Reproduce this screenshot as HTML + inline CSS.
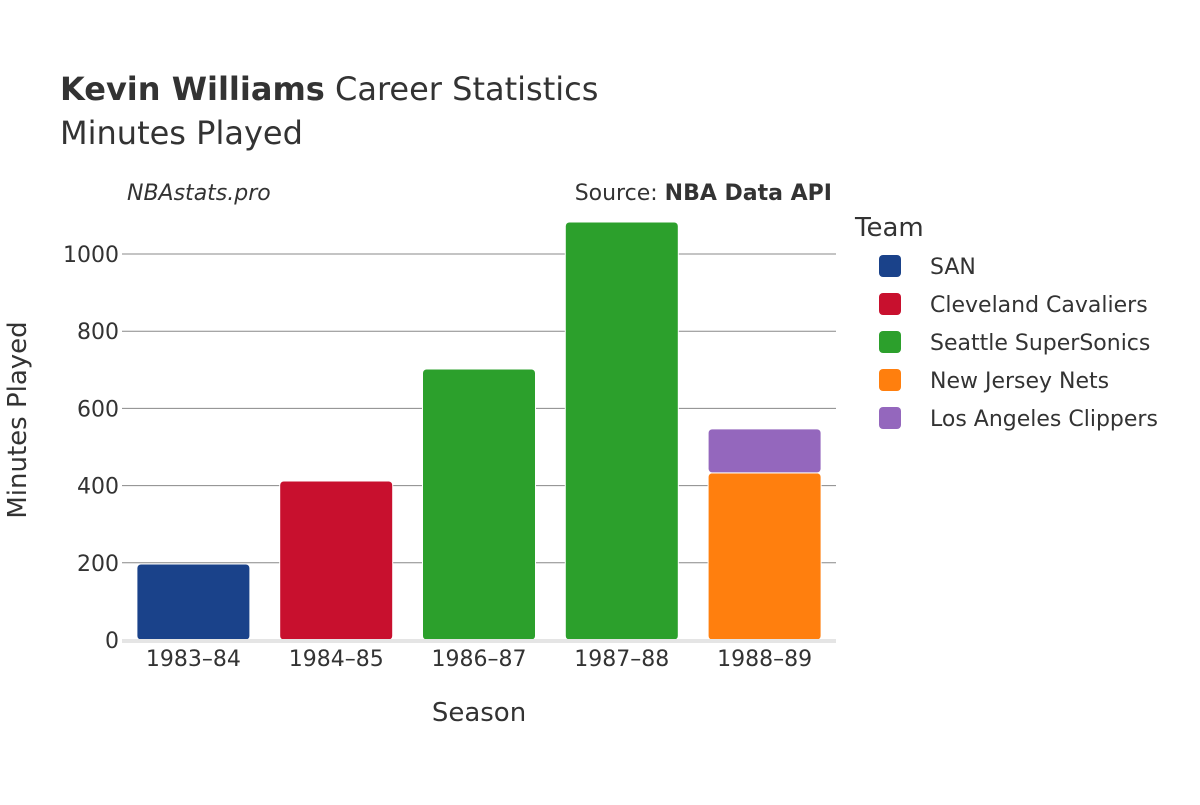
<!DOCTYPE html>
<html><head><meta charset="utf-8"><style>
body{margin:0;background:#fff;}
svg{font-family:"DejaVu Sans","Liberation Sans",sans-serif;}
</style></head><body>
<svg id="chart" width="1200" height="800" viewBox="0 0 1200 800">
<text x="60" y="100" font-size="32" fill="#333"><tspan font-weight="bold">Kevin Williams</tspan> Career Statistics</text>
<text x="60" y="144" font-size="32" fill="#333">Minutes Played</text>
<text x="127" y="200" font-size="22" font-style="italic" fill="#333">NBAstats.pro</text>
<text x="832" y="200" font-size="22" text-anchor="end" fill="#333">Source: <tspan font-weight="bold">NBA Data API</tspan></text>
<g id="grid"></g>
<g id="bars"></g>
<g id="xticks"></g>
<text x="479" y="721" font-size="26" text-anchor="middle" fill="#333">Season</text>
<text transform="translate(26,420) rotate(-90)" font-size="26" text-anchor="middle" fill="#333">Minutes Played</text>
<text x="855" y="236" font-size="26" fill="#333">Team</text>
<g id="legend"></g>
</svg>
<script>
const seasons=["1983–84","1984–85","1986–87","1987–88","1988–89"];
const teams=["SAN","Cleveland Cavaliers","Seattle SuperSonics","New Jersey Nets","Los Angeles Clippers"];
const colors=["#1a428a","#c8102e","#2ca02c","#ff7f0e","#9467bd"];
const sanVals=[197,0,0,0,0];
const cleVals=[0,412,0,0,0];
const seaVals=[0,0,702,1083,0];
const njnVals=[0,0,0,0,433];
const lacVals=[0,0,0,0,114];
const yTicks=[0,200,400,600,800,1000];
const series=[sanVals,cleVals,seaVals,njnVals,lacVals];
const NS="http://www.w3.org/2000/svg";
const x0=122,x1=836,y0=640,pxPer=386/1000;
const band=(x1-x0)/seasons.length, bw=113;
const yS=v=>y0-v*pxPer;
const xS=i=>x0+band*i+(band-bw)/2;
function mk(tag,attrs,parent){const e=document.createElementNS(NS,tag);for(const k in attrs)e.setAttribute(k,attrs[k]);parent.appendChild(e);return e;}
const grid=document.getElementById('grid');
yTicks.forEach(t=>{
  if(t>0){const l=mk('line',{x1:x0,x2:x1,y1:yS(t),y2:yS(t),stroke:'#888','stroke-width':1},grid);
  
  }
  const tx=mk('text',{x:119,y:yS(t)+8,'font-size':22,'text-anchor':'end',fill:'#333'},grid);
  tx.textContent=t;
  
  
});
const bars=document.getElementById('bars');
seasons.forEach((s,i)=>{
  let base=0;
  series.forEach((ser,k)=>{
    const v=ser[i]; if(!v) return;
    const yt=yS(base+v), yb=yS(base);
    const r=mk('rect',{x:xS(i),y:yt,width:bw,height:yb-yt,rx:4,fill:colors[k],stroke:'#fff','stroke-width':1},bars);
    
    
    base+=v;
  });
});
const zl=mk('line',{x1:x0,x2:x1,y1:y0+1,y2:y0+1,stroke:'#e5e5e5','stroke-width':4},bars);


const xt=document.getElementById('xticks');
seasons.forEach((s,i)=>{
  const t=mk('text',{x:x0+band*(i+0.5),y:666,'font-size':22,'text-anchor':'middle',fill:'#333'},xt);
  t.textContent=s;
  
  
});
const lg=document.getElementById('legend');
teams.forEach((t,k)=>{
  const y=266+k*38;
  const g=mk('g',{},lg);
  
  
  mk('rect',{x:879,y:y-11,width:22,height:22,rx:4,fill:colors[k]},g);
  const tx=mk('text',{x:930,y:y+8,'font-size':22,fill:'#333'},g);
  tx.textContent=t;
});
</script>
</body></html>
